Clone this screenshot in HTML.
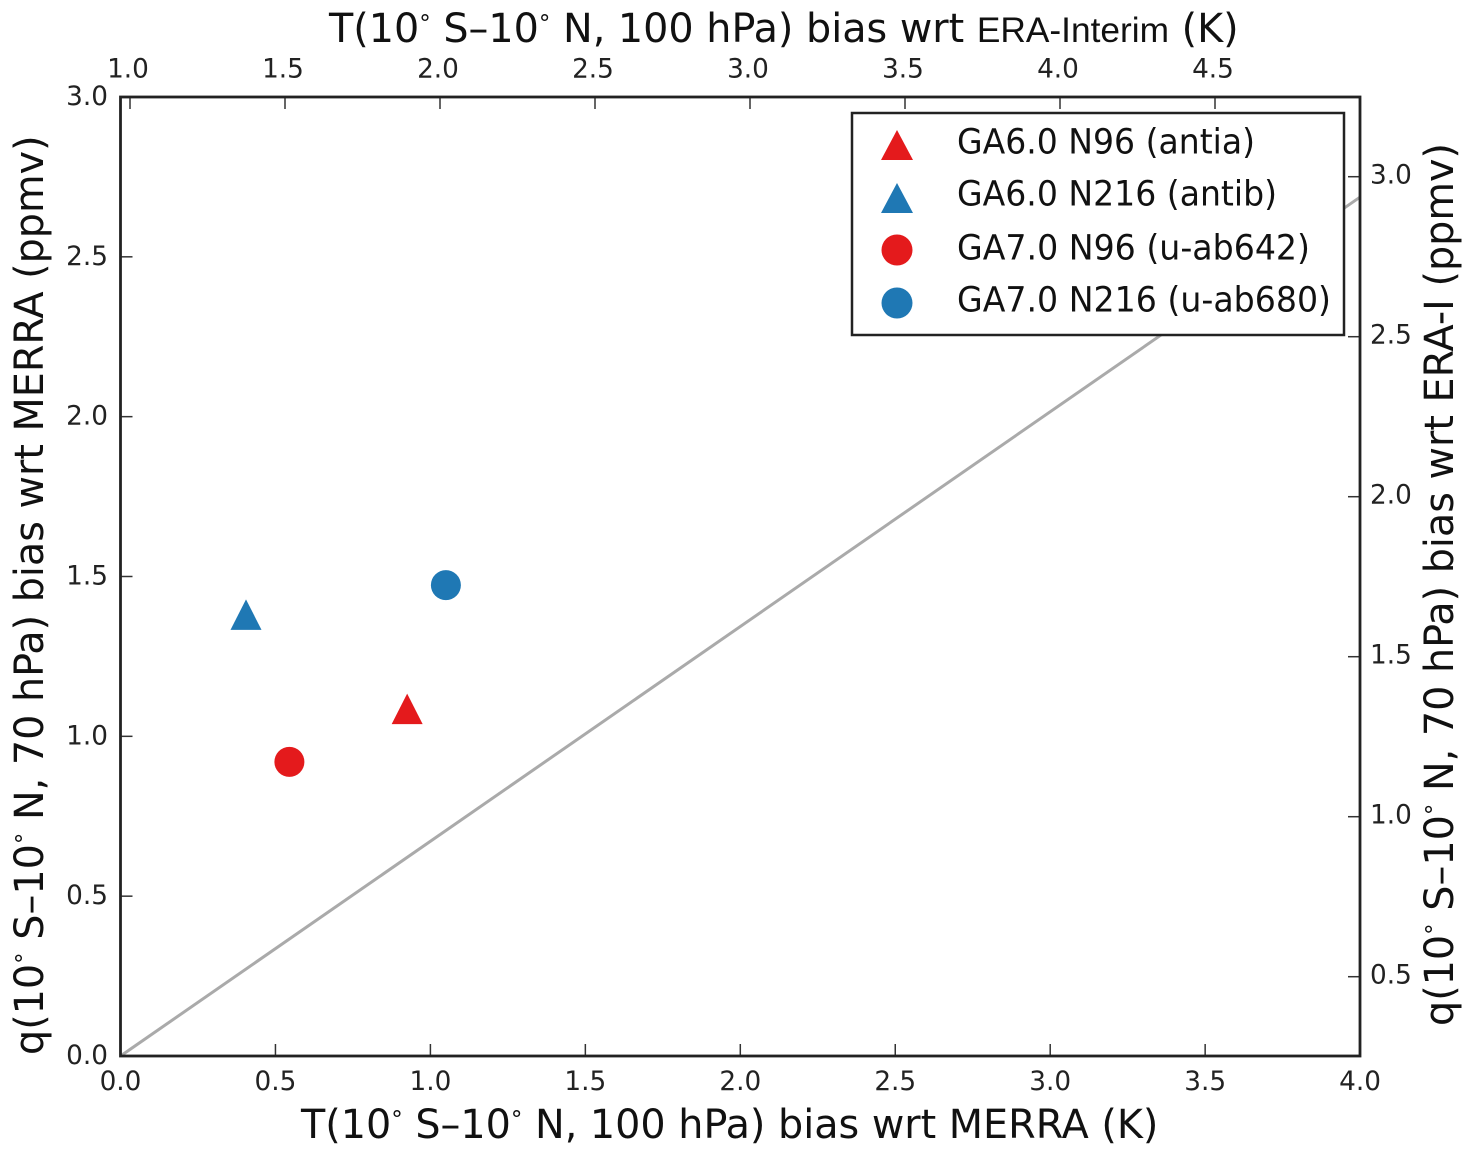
<!DOCTYPE html>
<html lang="en">
<head>
<meta charset="utf-8">
<title>Stratospheric water vapour bias vs tropical tropopause temperature bias</title>
<style>
html,body{margin:0;padding:0;background:#fff;}
svg{display:block;}
text{font-family:"DejaVu Sans","Liberation Sans",sans-serif;fill:#1a1a1a;white-space:pre;}
.tick{font-size:26.3px;fill:#222;}
.title{font-size:39.7px;fill:#111;}
.legend{font-size:34.5px;fill:#111;}
</style>
</head>
<body>
<svg id="chart" xmlns="http://www.w3.org/2000/svg" width="1474" height="1157" viewBox="0 0 1474 1157">
  <rect x="0" y="0" width="1474" height="1157" fill="#fff"/>
  <g id="ticks"></g>
  <g id="marks"></g>
  <rect x="120.5" y="97" width="1239.5" height="959" fill="none" stroke="#222" stroke-width="2.8"/>

  <text class="title" x="329" y="42">T(10<tspan font-size="23" dy="-11">°</tspan><tspan dy="11"> S–10</tspan><tspan font-size="23" dy="-11">°</tspan><tspan dy="11"> N, 100 hPa) bias wrt </tspan><tspan font-family="'Liberation Sans',sans-serif" font-size="35.3">ERA-Interim</tspan> (K)</text>
  <text class="title" x="301" y="1138">T(10<tspan font-size="23" dy="-11">°</tspan><tspan dy="11"> S–10</tspan><tspan font-size="23" dy="-11">°</tspan><tspan dy="11"> N, 100 hPa) bias wrt MERRA (K)</tspan></text>
  <text class="title" transform="translate(43,1055) rotate(-90)">q(10<tspan font-size="23" dy="-11">°</tspan><tspan dy="11"> S–10</tspan><tspan font-size="23" dy="-11">°</tspan><tspan dy="11"> N, 70 hPa) bias wrt MERRA (ppmv)</tspan></text>
  <text class="title" transform="translate(1453,1026) rotate(-90)">q(10<tspan font-size="23" dy="-11">°</tspan><tspan dy="11"> S–10</tspan><tspan font-size="23" dy="-11">°</tspan><tspan dy="11"> N, 70 hPa) bias wrt ERA-I (ppmv)</tspan></text>

  <g>
    <rect x="852" y="113" width="492" height="222" fill="#fff" stroke="#222" stroke-width="2.5"/>
    <polygon points="897,130 913,160 881,160" fill="#e41a1c"/>
    <text class="legend" x="957" y="153.5" textLength="298" lengthAdjust="spacingAndGlyphs">GA6.0 N96 (antia)</text>
    <polygon points="897,183 913,213 881,213" fill="#1f78b4"/>
    <text class="legend" x="957" y="205.5" textLength="320" lengthAdjust="spacingAndGlyphs">GA6.0 N216 (antib)</text>
    <circle cx="897" cy="250" r="15.5" fill="#e41a1c"/>
    <text class="legend" x="957" y="259.5" textLength="353" lengthAdjust="spacingAndGlyphs">GA7.0 N96 (u-ab642)</text>
    <circle cx="897" cy="303" r="15.5" fill="#1f78b4"/>
    <text class="legend" x="957" y="311.5" textLength="374" lengthAdjust="spacingAndGlyphs">GA7.0 N216 (u-ab680)</text>
  </g>
</svg>
<script>
// Chart data
var bottomTicks = [0.0, 0.5, 1.0, 1.5, 2.0, 2.5, 3.0, 3.5, 4.0];
var leftTicks = [0.0, 0.5, 1.0, 1.5, 2.0, 2.5, 3.0];
var topTicks = [1.0, 1.5, 2.0, 2.5, 3.0, 3.5, 4.0, 4.5];
var rightTicks = [0.5, 1.0, 1.5, 2.0, 2.5, 3.0];
var seriesNames = ['antia', 'antib', 'u-ab642', 'u-ab680'];
var seriesShapes = ['triangle', 'triangle', 'circle', 'circle'];
var seriesColors = ['#e41a1c', '#1f78b4', '#e41a1c', '#1f78b4'];
var tempBias = [0.925, 0.405, 0.545, 1.05];
var waterBias = [1.085, 1.38, 0.92, 1.473];
var refLineX = [0, 4];
var refLineY = [0, 2.687];

// Axis functions
function xBottom(v) { return 120.5 + v * 309.9; }
function yLeft(v) { return 1056 - v * 319.67; }
function xTop(v) { return 130 + (v - 1) * 310; }
function yRight(v) { return 976.7 - (v - 0.5) * 320; }

var NS = 'http://www.w3.org/2000/svg';
var ticksGroup = document.getElementById('ticks');
var marksGroup = document.getElementById('marks');

function tickLine(x1, y1, x2, y2) {
  var l = document.createElementNS(NS, 'line');
  l.setAttribute('x1', x1);
  l.setAttribute('y1', y1);
  l.setAttribute('x2', x2);
  l.setAttribute('y2', y2);
  l.setAttribute('stroke', '#333');
  l.setAttribute('stroke-width', '1.5');
  
  
  ticksGroup.appendChild(l);
}
function tickLabel(x, y, anchor, value) {
  var t = document.createElementNS(NS, 'text');
  t.setAttribute('class', 'tick');
  t.setAttribute('x', x);
  t.setAttribute('y', y);
  t.setAttribute('text-anchor', anchor);
  
  
  t.textContent = value.toFixed(1);
  ticksGroup.appendChild(t);
}

bottomTicks.forEach(function (v) {
  var x = xBottom(v);
  tickLine(x, 1056, x, 1044);
  tickLabel(x, 1090, 'middle', v);
});
leftTicks.forEach(function (v) {
  var y = yLeft(v);
  tickLine(120.5, y, 132.5, y);
  tickLabel(108, y + 8, 'end', v);
});
topTicks.forEach(function (v) {
  var x = xTop(v);
  tickLine(x, 97, x, 109);
  tickLabel(x - 2, 77.5, 'middle', v);
});
rightTicks.forEach(function (v) {
  var y = yRight(v);
  tickLine(1348, y, 1360, y);
  tickLabel(1370, y + 7, 'start', v);
});

var refLine = document.createElementNS(NS, 'line');
refLine.setAttribute('x1', xBottom(refLineX[0]));
refLine.setAttribute('y1', yLeft(refLineY[0]));
refLine.setAttribute('x2', xBottom(refLineX[1]));
refLine.setAttribute('y2', yLeft(refLineY[1]));
refLine.setAttribute('stroke', '#aaaaaa');
refLine.setAttribute('stroke-width', '3');


marksGroup.appendChild(refLine);

tempBias.forEach(function (t, i) {
  var cx = xBottom(t);
  var cy = yLeft(waterBias[i]);
  var m;
  if (seriesShapes[i] === 'triangle') {
    m = document.createElementNS(NS, 'polygon');
    m.setAttribute('points', cx + ',' + (cy - 15.5) + ' ' + (cx + 15.5) + ',' + (cy + 15) + ' ' + (cx - 15.5) + ',' + (cy + 15));
  } else {
    m = document.createElementNS(NS, 'circle');
    m.setAttribute('cx', cx);
    m.setAttribute('cy', cy);
    m.setAttribute('r', 15);
  }
  m.setAttribute('fill', seriesColors[i]);
  
  
  marksGroup.appendChild(m);
});
</script>
</body>
</html>
